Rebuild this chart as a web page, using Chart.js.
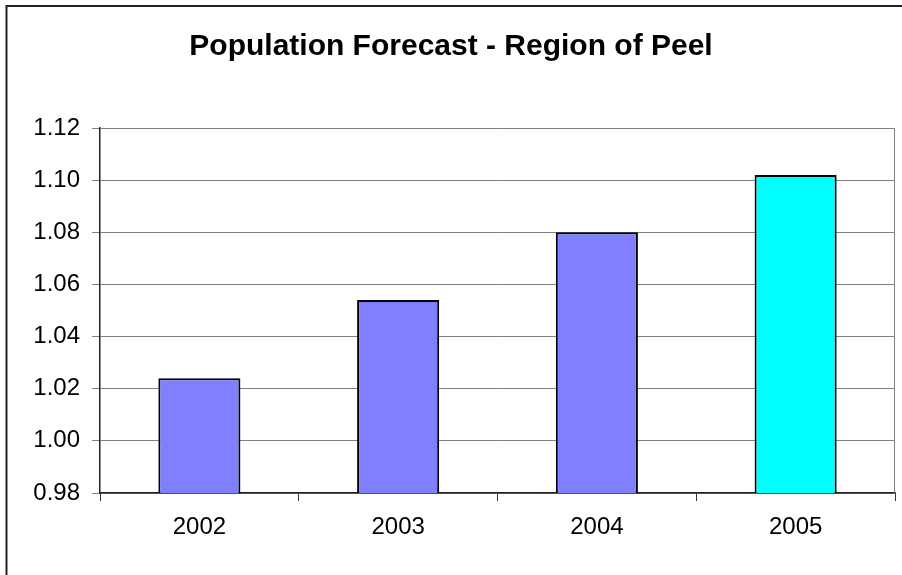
<!DOCTYPE html>
<html>
<head>
<meta charset="utf-8">
<title>Population Forecast - Region of Peel</title>
<script src="https://cdn.jsdelivr.net/npm/chart.js@4/dist/chart.umd.min.js"></script>
<style>
  html, body { margin: 0; padding: 0; background: #ffffff; }
  #wrap { width: 902px; height: 575px; }
</style>
</head>
<body>
<div id="wrap"><canvas id="chart" width="902" height="575"></canvas></div>
<script>
// Chart data
const titleText = 'Population Forecast - Region of Peel';
const years = ['2002', '2003', '2004', '2005'];
const populationIndex = [1.024, 1.054, 1.080, 1.102];
const barColors = ['#8080FF', '#8080FF', '#8080FF', '#00FFFF'];
const yTickValues = [0.98, 1.00, 1.02, 1.04, 1.06, 1.08, 1.10, 1.12];

const FONT = "'Liberation Sans', Arial, sans-serif";

// White background, outer chart frame and right edge of the plot area
const framePlugin = {
  id: 'frame',
  beforeDraw(chart) {
    const ctx = chart.ctx;
    ctx.save();
    ctx.fillStyle = '#ffffff';
    ctx.fillRect(0, 0, chart.width, chart.height);
    ctx.strokeStyle = '#222222';
    ctx.lineWidth = 2;
    ctx.strokeRect(6.5, 6, chart.width + 50, chart.height + 50);
    ctx.restore();
  },
  afterDraw(chart) {
    const a = chart.chartArea;
    const ctx = chart.ctx;
    ctx.save();
    ctx.strokeStyle = '#808080';
    ctx.lineWidth = 1;
    ctx.beginPath();
    ctx.moveTo(Math.round(a.right) - 0.5, a.top);
    ctx.lineTo(Math.round(a.right) - 0.5, a.bottom);
    ctx.stroke();
    ctx.restore();
  }
};

new Chart(document.getElementById('chart'), {
  type: 'bar',
  data: {
    labels: years,
    datasets: [{
      data: populationIndex,
      backgroundColor: barColors,
      borderColor: '#000000',
      borderWidth: 2,
      borderSkipped: false,
      categoryPercentage: 1.0,
      barPercentage: 0.413
    }]
  },
  options: {
    responsive: false,
    animation: false,
    devicePixelRatio: 1,
    layout: { padding: { left: 7, right: 7, top: 0, bottom: 0 } },
    plugins: {
      legend: { display: false },
      tooltip: { enabled: false },
      title: {
        display: true,
        text: titleText,
        color: '#000000',
        font: { family: FONT, size: 30, weight: 'bold', lineHeight: 1.2 },
        padding: { top: 28.7, bottom: 63.3 }
      }
    },
    scales: {
      x: {
        offset: true,
        grid: {
          offset: true,
          drawOnChartArea: false,
          drawTicks: true,
          tickLength: 8,
          color: '#333333'
        },
        border: { display: true, color: '#222222', width: 1.5 },
        ticks: {
          color: '#000000',
          font: { family: FONT, size: 24 },
          padding: 12,
          maxRotation: 0
        },
        afterFit(scale) { scale.height = 82; }
      },
      y: {
        min: 0.98,
        max: 1.12,
        grid: {
          color: '#808080',
          lineWidth: 1,
          drawTicks: true,
          tickLength: 8
        },
        border: { display: true, color: '#222222', width: 1.5 },
        ticks: {
          color: '#000000',
          font: { family: FONT, size: 24 },
          padding: 12,
          callback: (v) => Number(v).toFixed(2)
        },
        afterBuildTicks(scale) {
          scale.ticks = yTickValues.map(v => ({ value: v }));
        },
        afterFit(scale) { scale.width = 93; }
      }
    }
  },
  plugins: [framePlugin]
});
</script>
</body>
</html>
